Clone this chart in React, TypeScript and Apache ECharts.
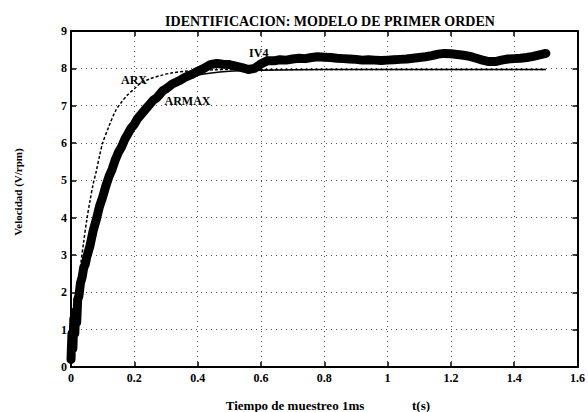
import React, { useEffect, useRef } from "react";
import * as echarts from "echarts";

const FONT = "'Liberation Serif', 'Times New Roman', serif";

const titleText = "IDENTIFICACION: MODELO DE PRIMER ORDEN";
const xNameText = "Tiempo de muestreo 1ms";
const xUnitText = "t(s)";
const yNameText = "Velocidad (V/rpm)";

const xTickLabels = ["0", "0.2", "0.4", "0.6", "0.8", "1", "1.2", "1.4", "1.6"];
const yTickLabels = ["0", "1", "2", "3", "4", "5", "6", "7", "8", "9"];

// Measured response (thick trace, IV4)
const tMeas = [
  0, 0.003, 0.006, 0.009, 0.012, 0.015, 0.018, 0.021, 0.025, 0.03, 0.035, 0.04, 0.045, 0.05,
  0.06, 0.07, 0.08, 0.09, 0.1, 0.11, 0.12, 0.13, 0.14, 0.15, 0.16, 0.17, 0.18, 0.19, 0.2,
  0.21, 0.22, 0.23, 0.24, 0.25, 0.26, 0.27, 0.28, 0.29, 0.3, 0.32, 0.34, 0.36, 0.38, 0.4,
  0.42, 0.44, 0.46, 0.48, 0.5, 0.52, 0.54, 0.56, 0.58, 0.6, 0.62, 0.64, 0.66, 0.68, 0.7,
  0.72, 0.74, 0.76, 0.78, 0.8, 0.82, 0.84, 0.86, 0.88, 0.9, 0.92, 0.94, 0.96, 0.98, 1.0,
  1.02, 1.04, 1.06, 1.08, 1.1, 1.12, 1.14, 1.16, 1.18, 1.2, 1.22, 1.24, 1.26, 1.28, 1.3,
  1.32, 1.34, 1.36, 1.38, 1.4, 1.42, 1.44, 1.46, 1.48, 1.5,
];
const vMeas = [
  0.2, 0.9, 0.5, 1.3, 0.9, 1.5, 1.2, 1.8, 1.9, 2.25, 2.4, 2.65, 2.75, 2.95,
  3.25, 3.65, 3.95, 4.3, 4.55, 4.85, 5.1, 5.3, 5.55, 5.75, 5.9, 6.1, 6.25, 6.4, 6.5,
  6.65, 6.75, 6.85, 6.95, 7.05, 7.15, 7.2, 7.3, 7.4, 7.45, 7.58, 7.66, 7.76, 7.83, 7.92,
  8.0, 8.1, 8.13, 8.11, 8.1, 8.06, 8.02, 7.97, 8.0, 8.12, 8.2, 8.2, 8.23, 8.22, 8.25,
  8.27, 8.26, 8.29, 8.31, 8.3, 8.29, 8.27, 8.26, 8.25, 8.24, 8.22, 8.23, 8.22, 8.21, 8.22,
  8.23, 8.24, 8.25, 8.27, 8.29, 8.31, 8.34, 8.38, 8.4, 8.39, 8.37, 8.35, 8.32, 8.27, 8.22,
  8.18, 8.18, 8.22, 8.25, 8.26, 8.27, 8.29, 8.32, 8.36, 8.4,
];

// ARX model (dashed)
const tArx = [
  0, 0.01, 0.02, 0.03, 0.04, 0.05, 0.06, 0.07, 0.08, 0.09, 0.1, 0.12, 0.14, 0.16, 0.18,
  0.2, 0.22, 0.25, 0.28, 0.32, 0.36, 0.4, 0.45, 0.5, 0.6, 0.8, 1.0, 1.2, 1.4, 1.5,
];
const vArx = [
  0, 1.0, 1.9, 2.7, 3.35, 3.95, 4.45, 4.9, 5.25, 5.65, 6.0, 6.45, 6.85, 7.1, 7.3,
  7.45, 7.6, 7.72, 7.8, 7.88, 7.92, 7.95, 7.96, 7.97, 7.97, 7.97, 7.97, 7.97, 7.97, 7.97,
];

// ARMAX model (thin solid)
const tArmax = [
  0, 0.02, 0.04, 0.06, 0.08, 0.1, 0.12, 0.15, 0.18, 0.21, 0.25, 0.3, 0.35, 0.4, 0.5, 0.6,
  0.8, 1.0, 1.2, 1.5,
];
const vArmax = [
  0.4, 1.7, 2.7, 3.3, 4.0, 4.6, 5.1, 5.75, 6.3, 6.7, 7.05, 7.45, 7.68, 7.82, 7.92, 7.95,
  7.97, 7.97, 7.97, 7.97,
];

// Annotation labels placed at data coordinates
const annoNames = ["ARX", "ARMAX", "IV4"];
const annoT = [0.199, 0.368, 0.593];
const annoV = [7.69, 7.13, 8.4];

const zip = (a: number[], b: number[]) => a.map((x, i) => [x, b[i]]);

const axisLineStyle = { color: "#000", width: 2 };
const tickStyle = { color: "#000", width: 1.5 };
const gridStyle = { color: "#555", type: [1, 4] as number[], width: 1 };
const labelFont = { color: "#000", fontFamily: FONT, fontWeight: "bold" as const, fontSize: 12 };

export default function App() {
  const ref = useRef<HTMLDivElement>(null);
  useEffect(() => {
    const chart = echarts.init(ref.current!, null, { renderer: "svg" });
    chart.setOption({
      animation: false,
      backgroundColor: "#fff",
      textStyle: { fontFamily: FONT },
      title: {
        text: titleText,
        left: 325,
        top: 9,
        textAlign: "center",
        textStyle: { ...labelFont, fontSize: 14 },
      },
      grid: { left: 71, right: 6, top: 31, bottom: 45, containLabel: false },
      xAxis: [
        {
          type: "value",
          position: "bottom",
          min: 0,
          max: 1.6,
          interval: 0.2,
          axisLine: { show: true, onZero: false, lineStyle: axisLineStyle },
          axisTick: { show: true, inside: true, length: 5, lineStyle: tickStyle },
          axisLabel: {
            ...labelFont,
            margin: 5,
            showMinLabel: true,
            showMaxLabel: true,
            formatter: (v: number) => xTickLabels[Math.round(v / 0.2)],
          },
          splitLine: { show: true, lineStyle: gridStyle },
        },
        {
          type: "value",
          position: "top",
          min: 0,
          max: 1.6,
          interval: 0.2,
          axisLine: { show: true, onZero: false, lineStyle: axisLineStyle },
          axisTick: { show: true, inside: true, length: 5, lineStyle: tickStyle },
          axisLabel: { show: false },
          splitLine: { show: false },
        },
      ],
      yAxis: [
        {
          type: "value",
          position: "left",
          min: 0,
          max: 9,
          interval: 1,
          axisLine: { show: true, onZero: false, lineStyle: axisLineStyle },
          axisTick: { show: true, inside: true, length: 5, lineStyle: tickStyle },
          axisLabel: {
            ...labelFont,
            margin: 4,
            formatter: (v: number) => yTickLabels[Math.round(v)],
          },
          splitLine: { show: true, lineStyle: gridStyle },
        },
        {
          type: "value",
          position: "right",
          min: 0,
          max: 9,
          interval: 1,
          axisLine: { show: true, onZero: false, lineStyle: axisLineStyle },
          axisTick: { show: true, inside: true, length: 5, lineStyle: tickStyle },
          axisLabel: { show: false },
          splitLine: { show: false },
        },
      ],
      graphic: [
        {
          type: "text",
          x: 18,
          y: 192,
          rotation: Math.PI / 2,
          style: {
            text: yNameText,
            fill: "#000",
            fontFamily: FONT,
            fontWeight: "bold",
            fontSize: 11,
            align: "center",
            verticalAlign: "middle",
          },
        },
        {
          type: "text",
          x: 295,
          y: 405,
          style: {
            text: xNameText,
            fill: "#000",
            fontFamily: FONT,
            fontWeight: "bold",
            fontSize: 13,
            align: "center",
            verticalAlign: "middle",
          },
        },
        {
          type: "text",
          x: 421,
          y: 405,
          style: {
            text: xUnitText,
            fill: "#000",
            fontFamily: FONT,
            fontWeight: "bold",
            fontSize: 13,
            align: "center",
            verticalAlign: "middle",
          },
        },
      ],
      series: [
        {
          name: "ARX",
          type: "line",
          data: zip(tArx, vArx),
          showSymbol: false,
          smooth: 0.3,
          lineStyle: { color: "#000", width: 1.5, type: [3, 2] },
          z: 3,
        },
        {
          name: "ARMAX",
          type: "line",
          data: zip(tArmax, vArmax),
          showSymbol: false,
          smooth: 0.3,
          lineStyle: { color: "#000", width: 1.5 },
          z: 3,
        },
        {
          name: "IV4",
          type: "line",
          data: zip(tMeas, vMeas),
          showSymbol: false,
          lineStyle: { color: "#000", width: 9, join: "round", cap: "round" },
          z: 4,
        },
        {
          name: "labels",
          type: "scatter",
          symbolSize: 0,
          itemStyle: { opacity: 1, color: "#000" },
          data: annoNames.map((n, i) => ({ name: n, value: [annoT[i], annoV[i]] })),
          label: {
            show: true,
            position: "inside",
            formatter: (p: any) => p.name,
            color: "#000",
            fontFamily: FONT,
            fontWeight: "bold",
            fontSize: 12,
          },
          z: 5,
        },
      ],
    });
    return () => chart.dispose();
  }, []);
  return (
    <div
      ref={ref}
      style={{ position: "fixed", left: 0, top: 0, width: 588, height: 412, background: "#fff" }}
    />
  );
}
